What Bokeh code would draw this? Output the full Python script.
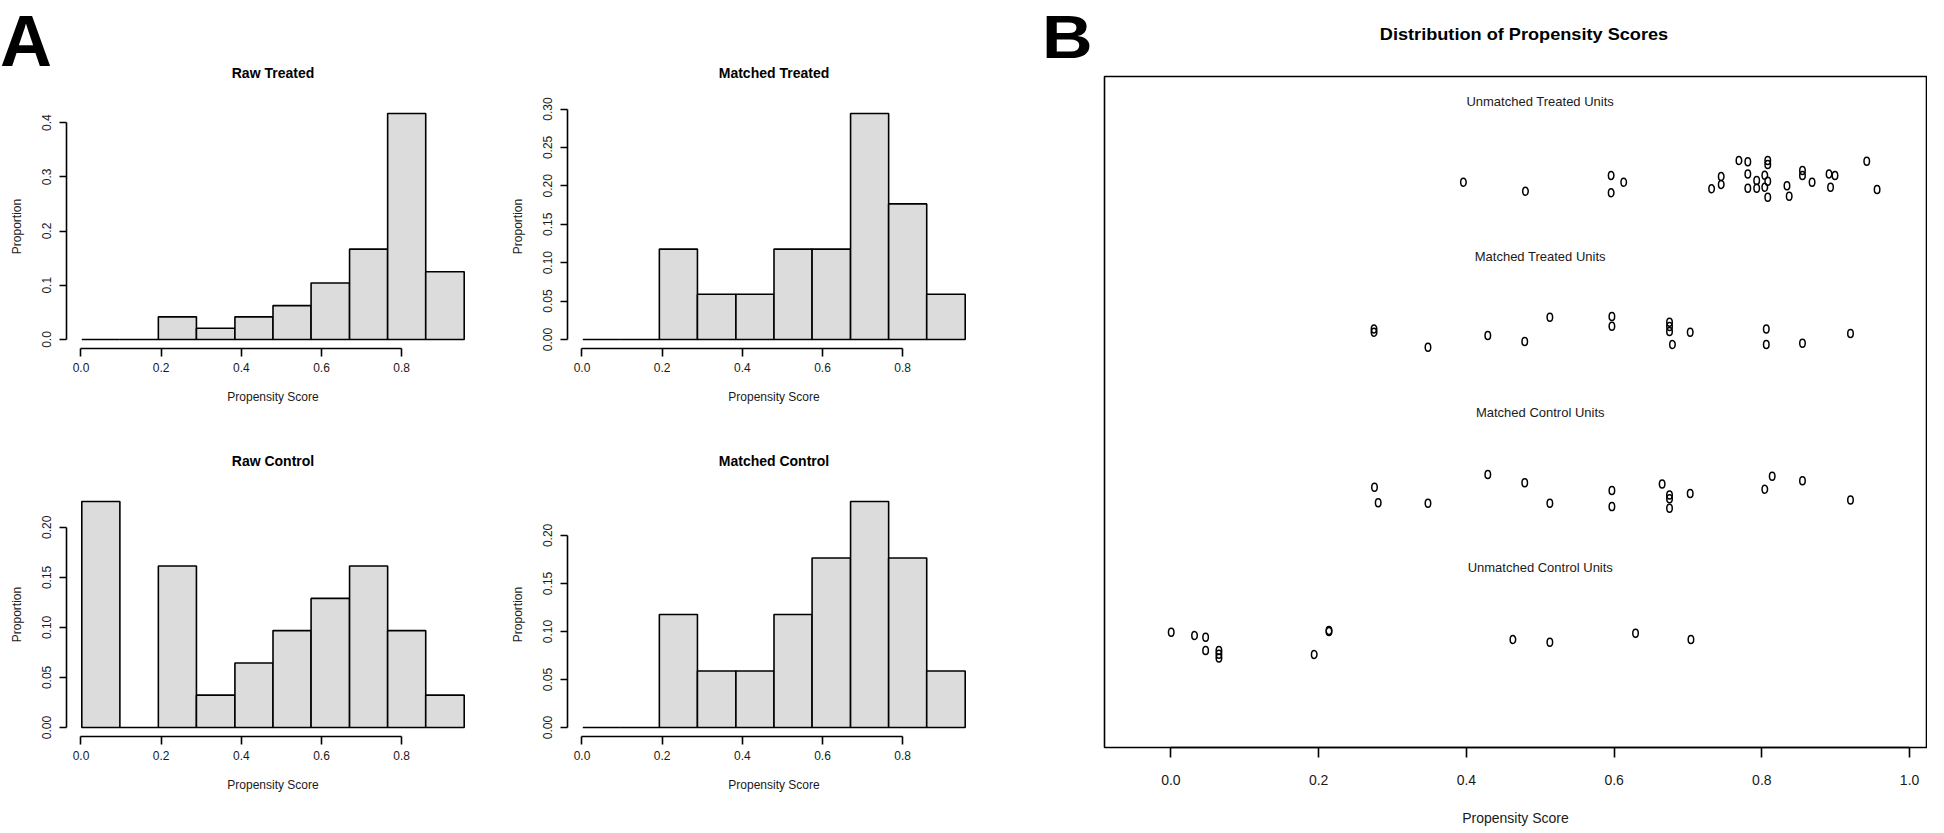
from bokeh.plotting import figure
from bokeh.layouts import row, column
from bokeh.models import Range1d, FixedTicker, NumeralTickFormatter, Div
from bokeh.core.properties import value
from bokeh.embed import file_html
from bokeh.resources import INLINE

FONT = "Liberation Sans"
TXT = "#1a1a1a"

# ---------------- data: histograms (panel A) ----------------
bin_edges = [0.002, 0.097, 0.193, 0.288, 0.384, 0.479, 0.574, 0.670, 0.765, 0.860, 0.956]
raw_treated = [0, 0, 0.0417, 0.0208, 0.0417, 0.0625, 0.1042, 0.1667, 0.4167, 0.125]
matched_treated = [0, 0, 0.1176, 0.0588, 0.0588, 0.1176, 0.1176, 0.2941, 0.1765, 0.0588]
raw_control = [0.2258, 0, 0.1613, 0.0323, 0.0645, 0.0968, 0.1290, 0.1613, 0.0968, 0.0323]
matched_control = [0, 0, 0.1176, 0.0588, 0.0588, 0.1176, 0.1765, 0.2353, 0.1765, 0.0588]
hist_x_ticks = [0.0, 0.2, 0.4, 0.6, 0.8]
y_ticks_raw_treated = [0.0, 0.1, 0.2, 0.3, 0.4]
y_ticks_matched_treated = [0.0, 0.05, 0.10, 0.15, 0.20, 0.25, 0.30]
y_ticks_raw_control = [0.0, 0.05, 0.10, 0.15, 0.20]
y_ticks_matched_control = [0.0, 0.05, 0.10, 0.15, 0.20]

# ---------------- data: jitter plot (panel B) ----------------
group_labels = ["Unmatched Treated Units", "Matched Treated Units",
                "Matched Control Units", "Unmatched Control Units"]
unmatched_treated_x = [0.396, 0.480, 0.596, 0.613, 0.596, 0.732, 0.745, 0.745, 0.769, 0.781,
                       0.781, 0.781, 0.793, 0.793, 0.804, 0.804, 0.808, 0.808, 0.808, 0.808,
                       0.834, 0.837, 0.855, 0.855, 0.868, 0.891, 0.899, 0.893, 0.942, 0.956]
unmatched_treated_y = [3.479, 3.421, 3.523, 3.479, 3.411, 3.437, 3.516, 3.465, 3.619, 3.611,
                       3.533, 3.441, 3.490, 3.441, 3.524, 3.447, 3.619, 3.593, 3.486, 3.383,
                       3.456, 3.389, 3.555, 3.523, 3.479, 3.533, 3.523, 3.447, 3.615, 3.432]
matched_treated_x = [0.275, 0.275, 0.348, 0.429, 0.479, 0.513, 0.597, 0.597, 0.675, 0.675,
                     0.675, 0.679, 0.703, 0.806, 0.806, 0.855, 0.920]
matched_treated_y = [2.535, 2.513, 2.417, 2.492, 2.454, 2.610, 2.615, 2.552, 2.578, 2.518,
                     2.550, 2.434, 2.513, 2.535, 2.434, 2.443, 2.505]
matched_control_x = [0.2756, 0.2806, 0.348, 0.429, 0.479, 0.513, 0.597, 0.597, 0.665, 0.675,
                     0.675, 0.675, 0.703, 0.804, 0.814, 0.855, 0.920]
matched_control_y = [1.515, 1.415, 1.412, 1.597, 1.545, 1.412, 1.494, 1.391, 1.537, 1.466,
                     1.441, 1.380, 1.475, 1.502, 1.586, 1.557, 1.434]
unmatched_control_x = [0.0004, 0.032, 0.047, 0.047, 0.065, 0.065, 0.065, 0.194, 0.214, 0.214,
                       0.463, 0.513, 0.629, 0.704]
unmatched_control_y = [0.582, 0.561, 0.550, 0.464, 0.464, 0.417, 0.440, 0.439, 0.593, 0.587,
                       0.535, 0.518, 0.576, 0.535]
b_x_ticks = [0.0, 0.2, 0.4, 0.6, 0.8, 1.0]


def style_axis(ax, size):
    ax.axis_line_color = "black"
    ax.axis_line_width = 1.6
    ax.major_tick_line_color = "black"
    ax.major_tick_line_width = 1.6
    ax.minor_tick_line_color = None
    ax.major_tick_in = 0
    ax.major_label_text_font = FONT
    ax.major_label_text_font_size = size
    ax.major_label_text_color = TXT
    ax.axis_label_text_font = FONT
    ax.axis_label_text_font_size = size
    ax.axis_label_text_font_style = "normal"
    ax.axis_label_text_color = TXT


def overlay_text(text, left, top, width, height, size, line_height, align="left",
                 stretch=1.0, origin="left center"):
    styles = {"position": "absolute", "left": f"{left}px", "top": f"{top}px",
              "font-family": FONT, "font-size": size, "font-weight": "bold",
              "line-height": line_height, "color": "black", "margin": "0",
              "padding": "0", "text-align": align, "z-index": "5"}
    if stretch != 1.0:
        styles["transform"] = f"scaleX({stretch})"
        styles["transform-origin"] = origin
    return Div(text=text, width=width, height=height, styles=styles)


def hist_fig(title, heights, y_ticks, y_fmt, width, height, bl, br, bt, bb, title_gap):
    x0, x1 = bin_edges[0], bin_edges[-1]
    pad = 0.04 * (x1 - x0)
    ymax = max(heights)
    p = figure(width=width, height=height, output_backend="svg", toolbar_location=None,
               x_range=Range1d(x0 - pad, x1 + pad),
               y_range=Range1d(-0.04 * ymax, 1.04 * ymax),
               min_border_left=bl, min_border_right=br,
               min_border_top=bt, min_border_bottom=bb, title=title)
    p.outline_line_color = None
    p.grid.visible = False
    p.quad(left=bin_edges[:-1], right=bin_edges[1:], bottom=0, top=heights,
           fill_color="#DCDCDC", line_color="black", line_width=1.6)
    p.title.align = "center"
    p.title.text_font = FONT
    p.title.text_font_size = "14px"
    p.title.text_font_style = "bold"
    p.title.text_color = "black"
    p.title.standoff = title_gap

    xa = p.xaxis[0]
    style_axis(xa, "12px")
    xa.ticker = FixedTicker(ticks=hist_x_ticks)
    xa.bounds = (hist_x_ticks[0], hist_x_ticks[-1])
    xa.formatter = NumeralTickFormatter(format="0.0")
    xa.major_tick_out = 8
    xa.major_label_standoff = 6
    xa.axis_label = "Propensity Score"
    xa.axis_label_standoff = 15

    ya = p.yaxis[0]
    style_axis(ya, "12px")
    ya.ticker = FixedTicker(ticks=y_ticks)
    ya.bounds = (y_ticks[0], y_ticks[-1])
    ya.formatter = NumeralTickFormatter(format=y_fmt)
    ya.major_label_orientation = "vertical"
    ya.major_tick_out = 7
    ya.major_label_standoff = 8
    ya.axis_label = "Proportion"
    ya.axis_label_standoff = 16
    return p


f1 = hist_fig("Raw Treated", raw_treated, y_ticks_raw_treated, "0.0", 505, 420, 66, 26, 104, 72, 48)
f2 = hist_fig("Matched Treated", matched_treated, y_ticks_matched_treated, "0.00", 500, 420, 62, 25, 104, 72, 48)
f3 = hist_fig("Raw Control", raw_control, y_ticks_raw_control, "0.00", 505, 408, 66, 26, 72, 92, 47)
f4 = hist_fig("Matched Control", matched_control, y_ticks_matched_control, "0.00", 500, 408, 62, 25, 72, 92, 47)

# ---------------- panel B ----------------
pb = figure(width=922, height=828, output_backend="svg", toolbar_location=None,
            x_range=Range1d(-0.0899, 1.0229), y_range=Range1d(-0.16, 4.16),
            min_border_left=99, min_border_right=1, min_border_top=76, min_border_bottom=81,
            y_axis_location=None)
pb.grid.visible = False
pb.outline_line_color = "black"
pb.outline_line_width = 1.6

xb = pb.xaxis[0]
style_axis(xb, "14px")
xb.ticker = FixedTicker(ticks=b_x_ticks)
xb.bounds = (b_x_ticks[0], b_x_ticks[-1])
xb.formatter = NumeralTickFormatter(format="0.0")
xb.major_tick_out = 10
xb.major_label_standoff = 17
xb.axis_label = "Propensity Score"
xb.axis_label_standoff = 22

n_groups = len(group_labels)
pb.text(x=[0.5] * n_groups, y=[n_groups - i for i in range(n_groups)], text=group_labels,
        text_align="center", text_baseline="middle", text_font=value(FONT),
        text_font_size="13px", text_color=TXT)

for xs, ys in [(unmatched_treated_x, unmatched_treated_y),
               (matched_treated_x, matched_treated_y),
               (matched_control_x, matched_control_y),
               (unmatched_control_x, unmatched_control_y)]:
    pb.ellipse(x=xs, y=ys, width=5.5, height=8, width_units="screen", height_units="screen",
               fill_color=None, line_color="black", line_width=1.5)

# panel letters and panel-B title (HTML overlays, kept fully inside the page)
div_a = overlay_text("A", 0, 1, 70, 80, "72px", "80px")
div_b = overlay_text("B", 1042, 2, 60, 70, "62px", "69px", stretch=1.13)
div_title_b = overlay_text("Distribution of Propensity Scores", 1324, 24, 400, 22,
                           "16.5px", "20px", align="center", stretch=1.1,
                           origin="center center")

layout = row(column(row(f1, f2), row(f3, f4)), pb, div_a, div_b, div_title_b)

html = file_html(layout, INLINE)
with open("out.html", "w") as fh:
    fh.write(html)
